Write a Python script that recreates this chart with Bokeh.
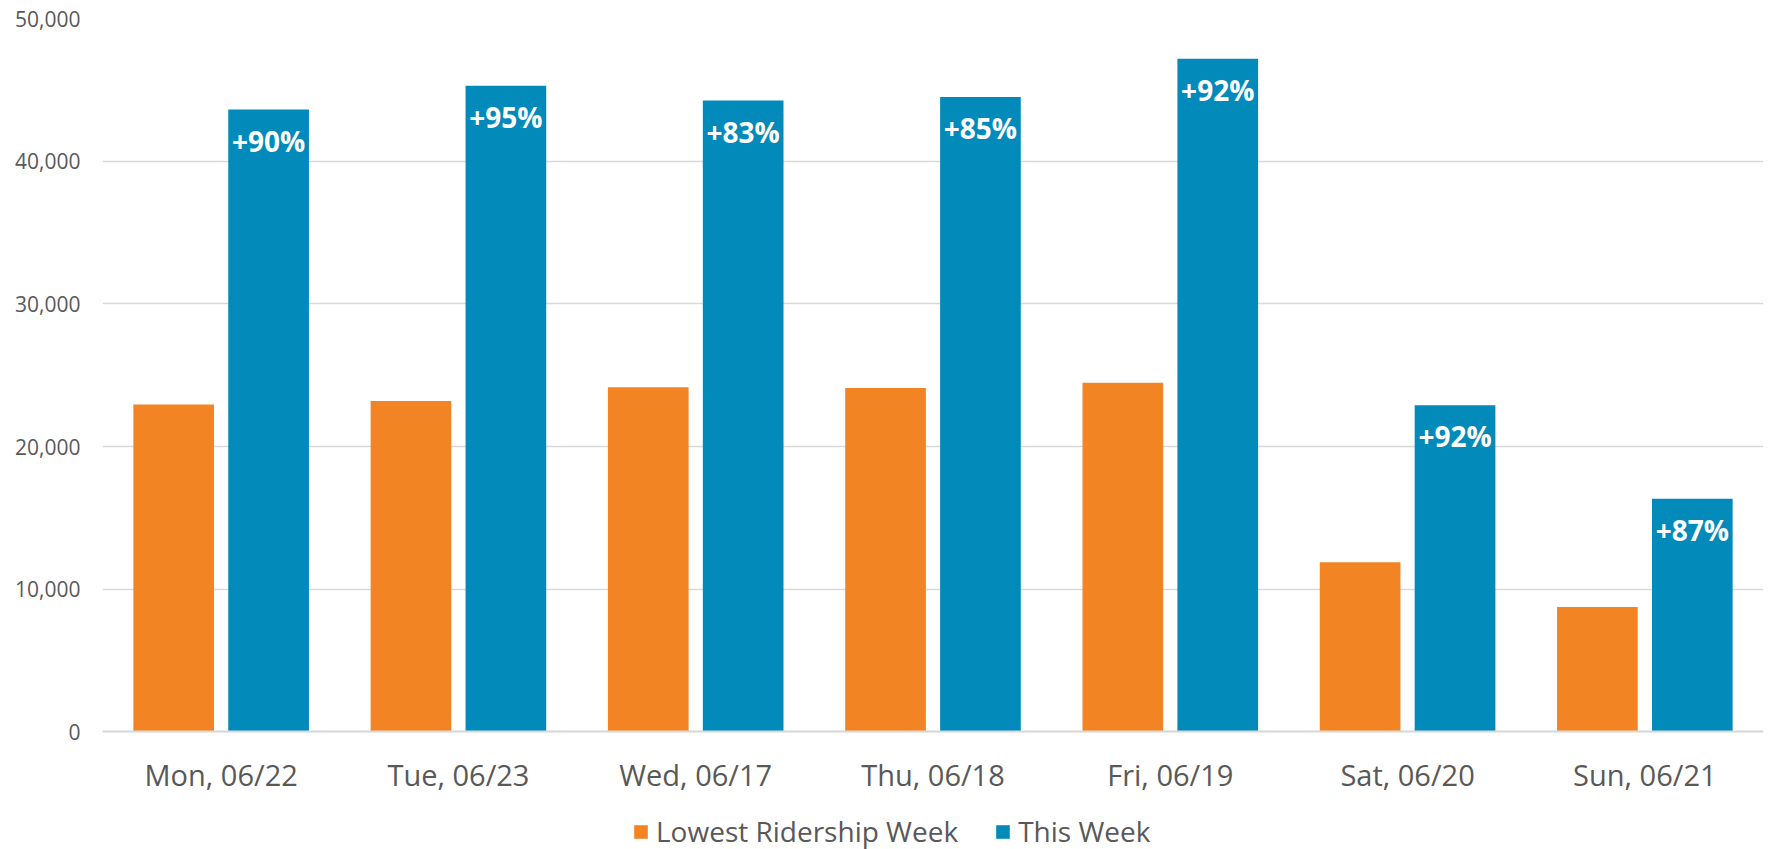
from bokeh.plotting import figure
from bokeh.models import ColumnDataSource, FactorRange, Legend, LegendItem, NumeralTickFormatter, FixedTicker
from bokeh.transform import dodge
from bokeh.core.properties import value
from bokeh.embed import file_html
from bokeh.resources import INLINE

days = ["Mon, 06/22", "Tue, 06/23", "Wed, 06/17", "Thu, 06/18", "Fri, 06/19", "Sat, 06/20", "Sun, 06/21"]
lowest_week = [22950, 23200, 24150, 24100, 24480, 11900, 8750]
this_week = [43620, 45280, 44250, 44500, 47180, 22900, 16350]
pct_labels = ["+90%", "+95%", "+83%", "+85%", "+92%", "+92%", "+87%"]
y_ticks = [0, 10000, 20000, 30000, 40000, 50000]

ORANGE = "#F38424"
BLUE = "#028BBA"
GRAY = "#595959"
GRID = "#D9D9D9"
FONT = "Open Sans"

src = ColumnDataSource(dict(day=days, low=lowest_week, this=this_week, pct=pct_labels))

p = figure(x_range=FactorRange(factors=days, range_padding=0), y_range=(-8240, 50000),
           width=1769, height=849, output_backend="svg", toolbar_location=None,
           min_border_left=102, min_border_right=6, min_border_top=18, min_border_bottom=0)
p.outline_line_color = None
p.background_fill_color = "white"
p.border_fill_color = "white"

r1 = p.vbar(x=dodge("day", -0.2, range=p.x_range), top="low", width=0.34, source=src,
            fill_color=ORANGE, line_color=None)
r2 = p.vbar(x=dodge("day", 0.2, range=p.x_range), top="this", width=0.34, source=src,
            fill_color=BLUE, line_color=None)

p.text(x=dodge("day", 0.2, range=p.x_range), y="this", text="pct", source=src,
       text_align="center", text_baseline="middle", y_offset=31,
       text_color="white", text_font=value(FONT), text_font_style="bold", text_font_size="28px")

# grid
p.xgrid.grid_line_color = None
p.ygrid.grid_line_color = GRID
p.ygrid.grid_line_width = 1.5
p.ygrid.ticker = FixedTicker(ticks=y_ticks)

# y axis
p.yaxis.ticker = FixedTicker(ticks=y_ticks)
p.yaxis.formatter = NumeralTickFormatter(format="0,0")
p.yaxis.axis_line_color = None
p.yaxis.major_tick_line_color = None
p.yaxis.minor_tick_line_color = None
p.yaxis.major_label_standoff = 16
p.yaxis.major_label_text_font = FONT
p.yaxis.major_label_text_font_size = "21px"
p.yaxis.major_label_text_color = GRAY

# x axis, drawn at y = 0
p.xaxis.fixed_location = 0
p.xaxis.axis_line_color = GRID
p.xaxis.axis_line_width = 2
p.xaxis.major_tick_line_color = None
p.xaxis.minor_tick_line_color = None
p.xaxis.major_label_standoff = 17
p.xaxis.major_label_text_font = FONT
p.xaxis.major_label_text_font_size = "29px"
p.xaxis.major_label_text_color = GRAY

legend = Legend(items=[LegendItem(label="Lowest Ridership Week", renderers=[r1]),
                       LegendItem(label="This Week", renderers=[r2])],
                orientation="horizontal", location=(530, -1),
                padding=0, margin=0, spacing=36, label_standoff=7,
                glyph_width=17, glyph_height=17,
                border_line_color=None, background_fill_alpha=0,
                label_text_font=FONT, label_text_font_size="28px", label_text_color=GRAY)
p.add_layout(legend, "center")

open("out.html", "w").write(file_html(p, INLINE))
